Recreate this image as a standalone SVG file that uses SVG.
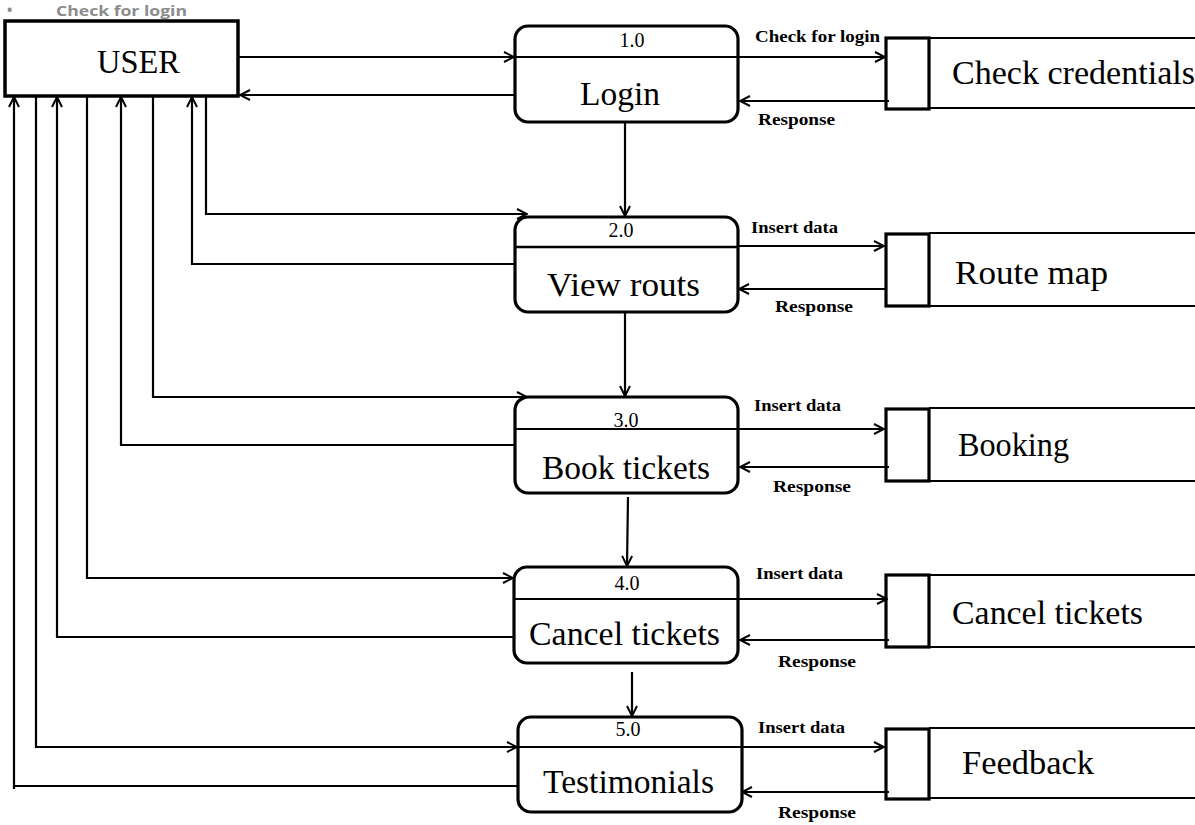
<svg xmlns="http://www.w3.org/2000/svg" width="1195" height="825" viewBox="0 0 1195 825">
<style>
.bg{fill:#fff}
.box{fill:#fff;stroke:#000;stroke-width:3.5}
.proc{fill:#fff;stroke:#000;stroke-width:3.2}
.div{stroke:#000;stroke-width:2.5;fill:none}
.ln{stroke:#000;stroke-width:2.2;fill:none}
.ds{stroke:#000;stroke-width:2;fill:none}
.dsb{fill:#fff;stroke:#000;stroke-width:3.2}
.big{font-family:"Liberation Serif","Times New Roman",serif;font-size:33px;fill:#000}
.num{font-family:"Liberation Serif","Times New Roman",serif;font-size:20px;fill:#000;text-anchor:middle}
.lbl{font-family:"Liberation Serif","Times New Roman",serif;font-size:17px;font-weight:bold;fill:#000}
.grey{font-family:"Open Sans","Liberation Sans",sans-serif;font-size:14px;font-weight:bold;fill:#8c8c8c}
</style>
<defs>
<marker id="ah" markerWidth="12" markerHeight="12" refX="11" refY="6" orient="auto" markerUnits="userSpaceOnUse">
<path d="M1,1 L11,6 L1,11" fill="none" stroke="#000" stroke-width="2"/>
</marker>
</defs>
<rect class="bg" x="0" y="0" width="1195" height="825"/>
<text class="grey" x="7" y="15" font-size="10">•</text>
<text class="grey" x="56" y="16" textLength="131" lengthAdjust="spacingAndGlyphs">Check for login</text>

<g id="user">
<rect class="box" x="5" y="21" width="233" height="75"/>
<text class="big" x="97" y="73" textLength="83" lengthAdjust="spacingAndGlyphs">USER</text>
</g>

<g id="p1">
<rect class="proc" x="515" y="26" width="223" height="96" rx="13"/>
<text class="num" x="632" y="47">1.0</text>
<text class="big" x="580" y="105" textLength="80" lengthAdjust="spacingAndGlyphs">Login</text>
</g>
<g id="p2">
<rect class="proc" x="515" y="217" width="223" height="95" rx="13"/>
<line class="div" x1="516" y1="247" x2="737" y2="247"/>
<text class="num" x="621" y="237">2.0</text>
<text class="big" x="547" y="296" textLength="153" lengthAdjust="spacingAndGlyphs">View routs</text>
</g>
<g id="p3">
<rect class="proc" x="515" y="397" width="223" height="96" rx="13"/>
<text class="num" x="626" y="427">3.0</text>
<text class="big" x="542" y="479" textLength="168" lengthAdjust="spacingAndGlyphs">Book tickets</text>
</g>
<g id="p4">
<rect class="proc" x="514" y="567" width="224" height="96" rx="13"/>
<text class="num" x="627" y="590">4.0</text>
<text class="big" x="529" y="645" textLength="191" lengthAdjust="spacingAndGlyphs">Cancel tickets</text>
</g>
<g id="p5">
<rect class="proc" x="518" y="717" width="224" height="95" rx="13"/>
<text class="num" x="628" y="736">5.0</text>
<text class="big" x="543" y="793" textLength="171" lengthAdjust="spacingAndGlyphs">Testimonials</text>
</g>

<g id="ds1">
<line class="ds" x1="929" y1="38" x2="1195" y2="38"/>
<line class="ds" x1="929" y1="108" x2="1195" y2="108"/>
<rect class="dsb" x="886" y="38" width="43" height="71"/>
<text class="big" x="952" y="84" textLength="243" lengthAdjust="spacingAndGlyphs">Check credentials</text>
</g>
<g id="ds2">
<line class="ds" x1="929" y1="233" x2="1195" y2="233"/>
<line class="ds" x1="929" y1="306" x2="1195" y2="306"/>
<rect class="dsb" x="886" y="234" width="43" height="72"/>
<text class="big" x="955" y="284" textLength="153" lengthAdjust="spacingAndGlyphs">Route map</text>
</g>
<g id="ds3">
<line class="ds" x1="929" y1="408" x2="1195" y2="408"/>
<line class="ds" x1="929" y1="481" x2="1195" y2="481"/>
<rect class="dsb" x="886" y="409" width="43" height="72"/>
<text class="big" x="958" y="456" textLength="111" lengthAdjust="spacingAndGlyphs">Booking</text>
</g>
<g id="ds4">
<line class="ds" x1="929" y1="575" x2="1195" y2="575"/>
<line class="ds" x1="929" y1="647" x2="1195" y2="647"/>
<rect class="dsb" x="886" y="575" width="43" height="72"/>
<text class="big" x="952" y="624" textLength="191" lengthAdjust="spacingAndGlyphs">Cancel tickets</text>
</g>
<g id="ds5">
<line class="ds" x1="929" y1="728" x2="1195" y2="728"/>
<line class="ds" x1="929" y1="798" x2="1195" y2="798"/>
<rect class="dsb" x="886" y="729" width="43" height="70"/>
<text class="big" x="962" y="774" textLength="132" lengthAdjust="spacingAndGlyphs">Feedback</text>
</g>

<g id="connectors">
<line class="ln" x1="238" y1="57" x2="514" y2="57" marker-end="url(#ah)"/>
<line class="ln" x1="514" y1="57" x2="738" y2="57"/>
<line class="ln" x1="515" y1="95" x2="240" y2="95" marker-end="url(#ah)"/>
<line class="ln" x1="738" y1="57" x2="885" y2="57" marker-end="url(#ah)"/>
<line class="ln" x1="889" y1="101" x2="740" y2="101" marker-end="url(#ah)"/>
<text class="lbl" x="755" y="42" textLength="125" lengthAdjust="spacingAndGlyphs">Check for login</text>
<text class="lbl" x="758" y="125" textLength="77" lengthAdjust="spacingAndGlyphs">Response</text>
<line class="ln" x1="625" y1="122" x2="625" y2="216" marker-end="url(#ah)"/>
<line class="ln" x1="625" y1="312" x2="625" y2="396" marker-end="url(#ah)"/>
<line class="ln" x1="628" y1="497" x2="627" y2="566" marker-end="url(#ah)"/>
<line class="ln" x1="632" y1="672" x2="632" y2="716" marker-end="url(#ah)"/>
<polyline class="ln" points="206,96 206,214 527,214" marker-end="url(#ah)"/>
<polyline class="ln" points="515,264 192,264 192,97" marker-end="url(#ah)"/>
<polyline class="ln" points="153,96 153,397 527,397" marker-end="url(#ah)"/>
<polyline class="ln" points="515,445 121,445 121,97" marker-end="url(#ah)"/>
<line class="ln" x1="515" y1="429" x2="738" y2="429"/>
<polyline class="ln" points="87,96 87,578 513,578" marker-end="url(#ah)"/>
<polyline class="ln" points="514,637 57,637 57,97" marker-end="url(#ah)"/>
<line class="ln" x1="514" y1="599" x2="738" y2="599"/>
<polyline class="ln" points="36,96 36,747 517,747" marker-end="url(#ah)"/>
<line class="ln" x1="518" y1="747" x2="742" y2="747"/>
<polyline class="ln" points="518,786 14,786 14,97" marker-end="url(#ah)"/>
<line class="ln" x1="14" y1="786" x2="14" y2="789"/>
<line class="ln" x1="738" y1="246" x2="884" y2="246" marker-end="url(#ah)"/>
<line class="ln" x1="886" y1="289" x2="739" y2="289" marker-end="url(#ah)"/>
<text class="lbl" x="751" y="233" textLength="87" lengthAdjust="spacingAndGlyphs">Insert data</text>
<text class="lbl" x="775" y="312" textLength="78" lengthAdjust="spacingAndGlyphs">Response</text>
<line class="ln" x1="738" y1="429" x2="884" y2="429" marker-end="url(#ah)"/>
<line class="ln" x1="889" y1="467" x2="740" y2="467" marker-end="url(#ah)"/>
<text class="lbl" x="754" y="411" textLength="87" lengthAdjust="spacingAndGlyphs">Insert data</text>
<text class="lbl" x="773" y="492" textLength="78" lengthAdjust="spacingAndGlyphs">Response</text>
<line class="ln" x1="738" y1="599" x2="887" y2="599" marker-end="url(#ah)"/>
<line class="ln" x1="889" y1="640" x2="740" y2="640" marker-end="url(#ah)"/>
<text class="lbl" x="756" y="579" textLength="87" lengthAdjust="spacingAndGlyphs">Insert data</text>
<text class="lbl" x="778" y="667" textLength="78" lengthAdjust="spacingAndGlyphs">Response</text>
<line class="ln" x1="742" y1="747" x2="884" y2="747" marker-end="url(#ah)"/>
<line class="ln" x1="889" y1="792" x2="742" y2="792" marker-end="url(#ah)"/>
<text class="lbl" x="758" y="733" textLength="87" lengthAdjust="spacingAndGlyphs">Insert data</text>
<text class="lbl" x="778" y="818" textLength="78" lengthAdjust="spacingAndGlyphs">Response</text>
</g>
</svg>
